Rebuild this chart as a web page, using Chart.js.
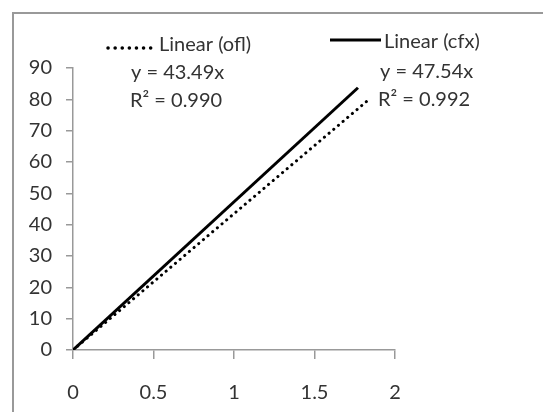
<!DOCTYPE html>
<html>
<head>
<meta charset="utf-8">
<script src="https://cdn.jsdelivr.net/npm/chart.js@4/dist/chart.umd.min.js"></script>
<style>
  html, body { margin: 0; padding: 0; background: #fff; }
  #wrap { position: relative; width: 543px; height: 412px; overflow: hidden; }
  #frame { position: absolute; left: 12px; top: 12px; width: 560px; height: 430px;
           border-left: 2px solid #999; border-top: 2px solid #999; box-sizing: border-box; }
  canvas { position: absolute; left: 0; top: 0; }
</style>
</head>
<body>
<div id="wrap">
  <div id="frame"></div>
  <canvas id="chart" width="543" height="412"></canvas>
</div>
<script>
// séries (droites de tendance)
const oflPoints = [{ x: 0, y: 0 }, { x: 1.83, y: 79.6 }];
const cfxPoints = [{ x: 0, y: 0 }, { x: 1.77, y: 83.7 }];
const seriesNames = ['Linear (ofl)', 'Linear (cfx)'];
const equations = ['y = 43.49x', 'y = 47.54x'];
const rSquared = ['R² = 0.990', 'R² = 0.992'];

const FONT = 'Lato, "Open Sans", sans-serif';
const FONT_SIZE = 20;
const TEXT_COLOR = '#333';
const AXIS_COLOR = '#999';

// Légende et étiquettes d'équation dessinées à la main
const labelsPlugin = {
    id: 'trendLabels',
    afterDraw(chart) {
        const ctx = chart.ctx;
        ctx.save();
        ctx.font = FONT_SIZE + 'px ' + FONT;
        ctx.fillStyle = TEXT_COLOR;
        ctx.textBaseline = 'middle';
        ctx.textAlign = 'left';

        // légende ofl (pointillés)
        ctx.strokeStyle = '#000';
        ctx.lineWidth = 3.5;
        ctx.lineCap = 'round';
        ctx.setLineDash([0.1, 7]);
        ctx.beginPath();
        ctx.moveTo(108, 48);
        ctx.lineTo(153, 48);
        ctx.stroke();
        ctx.fillText(seriesNames[0], 159, 45);

        // légende cfx (trait plein)
        ctx.setLineDash([]);
        ctx.lineCap = 'butt';
        ctx.lineWidth = 3;
        ctx.beginPath();
        ctx.moveTo(330, 40);
        ctx.lineTo(381, 40);
        ctx.stroke();
        ctx.fillText(seriesNames[1], 384, 42);

        ctx.fillText(equations[0], 131, 73);
        ctx.fillText(rSquared[0], 130, 101);
        ctx.fillText(equations[1], 380, 72);
        ctx.fillText(rSquared[1], 378, 100);
        ctx.restore();
    }
};

new Chart(document.getElementById('chart'), {
    type: 'scatter',
    data: {
        datasets: [
            {
                label: seriesNames[0],
                data: oflPoints,
                showLine: true,
                borderColor: '#000',
                borderWidth: 3,
                borderDash: [0.1, 6],
                borderCapStyle: 'round',
                pointRadius: 0,
                fill: false
            },
            {
                label: seriesNames[1],
                data: cfxPoints,
                showLine: true,
                borderColor: '#000',
                borderWidth: 3,
                pointRadius: 0,
                fill: false
            }
        ]
    },
    options: {
        responsive: false,
        animation: false,
        layout: { padding: { left: 0, top: 68, right: 148, bottom: 0 } },
        plugins: {
            legend: { display: false },
            tooltip: { enabled: false }
        },
        scales: {
            x: {
                type: 'linear',
                min: 0,
                max: 2,
                ticks: {
                    stepSize: 0.5,
                    color: TEXT_COLOR,
                    font: { family: FONT, size: FONT_SIZE },
                    padding: 22,
                    maxRotation: 0,
                    callback: (v) => String(v)
                },
                grid: {
                    drawOnChartArea: false,
                    drawTicks: true,
                    tickLength: 9,
                    color: AXIS_COLOR,
                    lineWidth: 1.5
                },
                border: { color: AXIS_COLOR, width: 1.5 },
                afterFit(scale) { scale.height = 62; }
            },
            y: {
                min: 0,
                max: 90,
                ticks: {
                    stepSize: 10,
                    color: TEXT_COLOR,
                    font: { family: FONT, size: FONT_SIZE },
                    padding: 14
                },
                grid: {
                    drawOnChartArea: false,
                    drawTicks: true,
                    tickLength: 7,
                    color: AXIS_COLOR,
                    lineWidth: 1.5
                },
                border: { color: AXIS_COLOR, width: 1.5 },
                afterFit(scale) { scale.width = 73; }
            }
        }
    },
    plugins: [labelsPlugin]
});
</script>
</body>
</html>
